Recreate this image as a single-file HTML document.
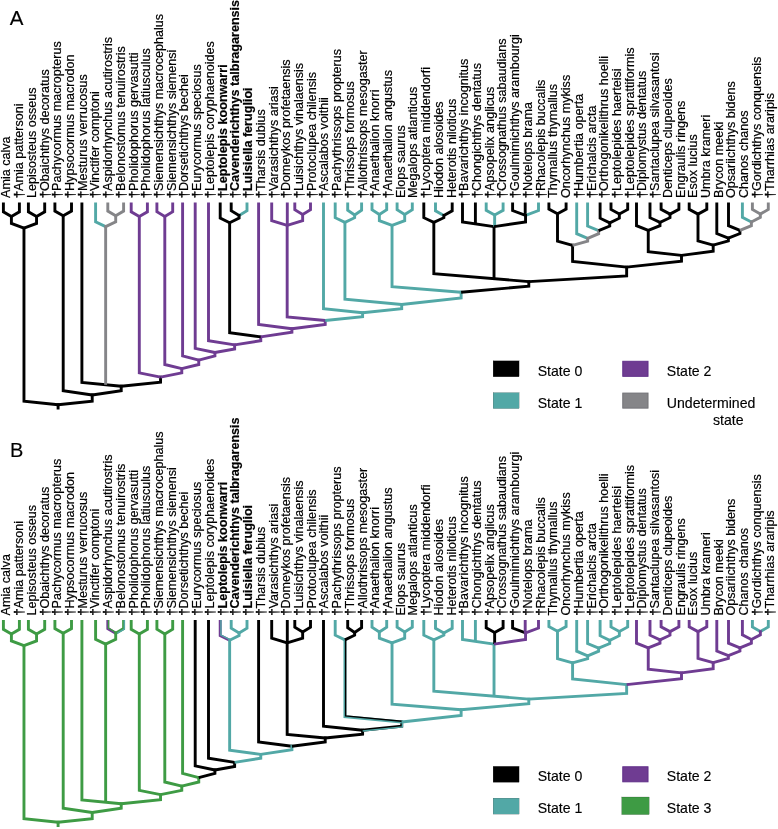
<!DOCTYPE html>
<html><head><meta charset="utf-8"><style>
html,body{margin:0;padding:0;background:#fff;}
body{width:778px;height:829px;overflow:hidden;}
svg{display:block;will-change:transform;}
text{font-family:"Liberation Sans",sans-serif;}
</style></head><body>
<svg width="778" height="829" viewBox="0 0 778 829">
<g font-size="20" fill="#000" stroke="#000" stroke-width="0.15"><text x="9.7" y="25.3" font-size="20.5">A</text><text x="9.9" y="457.1">B</text></g>
<g font-size="12.6" fill="#000" stroke="#000" stroke-width="0.2">
<text transform="translate(10.40,198.00) rotate(-90)">Amia calva</text>
<text transform="translate(23.12,198.00) rotate(-90)"><tspan font-weight="normal" stroke-width="0.45">†</tspan>Amia pattersoni</text>
<text transform="translate(35.84,198.00) rotate(-90)">Lepisosteus osseus</text>
<text transform="translate(48.56,198.00) rotate(-90)"><tspan font-weight="normal" stroke-width="0.45">†</tspan>Obaichthys decoratus</text>
<text transform="translate(61.28,198.00) rotate(-90)"><tspan font-weight="normal" stroke-width="0.45">†</tspan>Pachycormus macropterus</text>
<text transform="translate(74.00,198.00) rotate(-90)"><tspan font-weight="normal" stroke-width="0.45">†</tspan>Hypsocormus macrodon</text>
<text transform="translate(86.72,198.00) rotate(-90)"><tspan font-weight="normal" stroke-width="0.45">†</tspan>Mesturus verrucosus</text>
<text transform="translate(99.44,198.00) rotate(-90)"><tspan font-weight="normal" stroke-width="0.45">†</tspan>Vinctifer comptoni</text>
<text transform="translate(112.16,198.00) rotate(-90)"><tspan font-weight="normal" stroke-width="0.45">†</tspan>Aspidorhynchus acutirostris</text>
<text transform="translate(124.88,198.00) rotate(-90)"><tspan font-weight="normal" stroke-width="0.45">†</tspan>Belonostomus tenuirostris</text>
<text transform="translate(137.60,198.00) rotate(-90)"><tspan font-weight="normal" stroke-width="0.45">†</tspan>Pholidophorus gervasutti</text>
<text transform="translate(150.32,198.00) rotate(-90)"><tspan font-weight="normal" stroke-width="0.45">†</tspan>Pholidophorus latiusculus</text>
<text transform="translate(163.04,198.00) rotate(-90)"><tspan font-weight="normal" stroke-width="0.45">†</tspan>Siemensichthys macrocephalus</text>
<text transform="translate(175.76,198.00) rotate(-90)"><tspan font-weight="normal" stroke-width="0.45">†</tspan>Siemensichthys siemensi</text>
<text transform="translate(188.48,198.00) rotate(-90)"><tspan font-weight="normal" stroke-width="0.45">†</tspan>Dorsetichthys bechei</text>
<text transform="translate(201.20,198.00) rotate(-90)"><tspan font-weight="normal" stroke-width="0.45">†</tspan>Eurycormus speciosus</text>
<text transform="translate(213.92,198.00) rotate(-90)"><tspan font-weight="normal" stroke-width="0.45">†</tspan>Leptolepis coryphaenoides</text>
<text transform="translate(226.64,198.00) rotate(-90)" font-weight="bold"><tspan font-weight="normal" stroke-width="0.45">†</tspan>Leptolepis koonwarri</text>
<text transform="translate(239.36,198.00) rotate(-90)" font-weight="bold"><tspan font-weight="normal" stroke-width="0.45">†</tspan>Cavenderichthys talbragarensis</text>
<text transform="translate(252.08,198.00) rotate(-90)" font-weight="bold"><tspan font-weight="normal" stroke-width="0.45">†</tspan>Luisiella feruglioi</text>
<text transform="translate(264.80,198.00) rotate(-90)"><tspan font-weight="normal" stroke-width="0.45">†</tspan>Tharsis dubius</text>
<text transform="translate(277.52,198.00) rotate(-90)"><tspan font-weight="normal" stroke-width="0.45">†</tspan>Varasichthys ariasi</text>
<text transform="translate(290.24,198.00) rotate(-90)"><tspan font-weight="normal" stroke-width="0.45">†</tspan>Domeykos profetaensis</text>
<text transform="translate(302.96,198.00) rotate(-90)"><tspan font-weight="normal" stroke-width="0.45">†</tspan>Luisichthys vinalaensis</text>
<text transform="translate(315.68,198.00) rotate(-90)"><tspan font-weight="normal" stroke-width="0.45">†</tspan>Protoclupea chilensis</text>
<text transform="translate(328.40,198.00) rotate(-90)"><tspan font-weight="normal" stroke-width="0.45">†</tspan>Ascalabos voithii</text>
<text transform="translate(341.12,198.00) rotate(-90)"><tspan font-weight="normal" stroke-width="0.45">†</tspan>Pachythrissops propterus</text>
<text transform="translate(353.84,198.00) rotate(-90)"><tspan font-weight="normal" stroke-width="0.45">†</tspan>Thrissops formosus</text>
<text transform="translate(366.56,198.00) rotate(-90)"><tspan font-weight="normal" stroke-width="0.45">†</tspan>Allothrissops mesogaster</text>
<text transform="translate(379.28,198.00) rotate(-90)"><tspan font-weight="normal" stroke-width="0.45">†</tspan>Anaethalion knorri</text>
<text transform="translate(392.00,198.00) rotate(-90)"><tspan font-weight="normal" stroke-width="0.45">†</tspan>Anaethalion angustus</text>
<text transform="translate(404.72,198.00) rotate(-90)">Elops saurus</text>
<text transform="translate(417.44,198.00) rotate(-90)">Megalops atlanticus</text>
<text transform="translate(430.16,198.00) rotate(-90)"><tspan font-weight="normal" stroke-width="0.45">†</tspan>Lycoptera middendorfi</text>
<text transform="translate(442.88,198.00) rotate(-90)">Hiodon alosoides</text>
<text transform="translate(455.60,198.00) rotate(-90)">Heterotis niloticus</text>
<text transform="translate(468.32,198.00) rotate(-90)"><tspan font-weight="normal" stroke-width="0.45">†</tspan>Bavarichthys incognitus</text>
<text transform="translate(481.04,198.00) rotate(-90)"><tspan font-weight="normal" stroke-width="0.45">†</tspan>Chongichthys dentatus</text>
<text transform="translate(493.76,198.00) rotate(-90)"><tspan font-weight="normal" stroke-width="0.45">†</tspan>Apsopelix anglicus</text>
<text transform="translate(506.48,198.00) rotate(-90)"><tspan font-weight="normal" stroke-width="0.45">†</tspan>Crossognathus sabaudians</text>
<text transform="translate(519.20,198.00) rotate(-90)"><tspan font-weight="normal" stroke-width="0.45">†</tspan>Goulmimichthys arambourgi</text>
<text transform="translate(531.92,198.00) rotate(-90)"><tspan font-weight="normal" stroke-width="0.45">†</tspan>Notelops brama</text>
<text transform="translate(544.64,198.00) rotate(-90)"><tspan font-weight="normal" stroke-width="0.45">†</tspan>Rhacolepis buccalis</text>
<text transform="translate(557.36,198.00) rotate(-90)">Thymallus thymallus</text>
<text transform="translate(570.08,198.00) rotate(-90)">Oncorhynchus mykiss</text>
<text transform="translate(582.80,198.00) rotate(-90)"><tspan font-weight="normal" stroke-width="0.45">†</tspan>Humbertia operta</text>
<text transform="translate(595.52,198.00) rotate(-90)"><tspan font-weight="normal" stroke-width="0.45">†</tspan>Erichalcis arcta</text>
<text transform="translate(608.24,198.00) rotate(-90)"><tspan font-weight="normal" stroke-width="0.45">†</tspan>Orthogonikelithrus hoelli</text>
<text transform="translate(620.96,198.00) rotate(-90)"><tspan font-weight="normal" stroke-width="0.45">†</tspan>Leptolepides haerteisi</text>
<text transform="translate(633.68,198.00) rotate(-90)"><tspan font-weight="normal" stroke-width="0.45">†</tspan>Leptolepides sprattiformis</text>
<text transform="translate(646.40,198.00) rotate(-90)"><tspan font-weight="normal" stroke-width="0.45">†</tspan>Diplomystus dentatus</text>
<text transform="translate(659.12,198.00) rotate(-90)"><tspan font-weight="normal" stroke-width="0.45">†</tspan>Santaclupea silvasantosi</text>
<text transform="translate(671.84,198.00) rotate(-90)">Denticeps clupeoides</text>
<text transform="translate(684.56,198.00) rotate(-90)">Engraulis ringens</text>
<text transform="translate(697.28,198.00) rotate(-90)">Esox lucius</text>
<text transform="translate(710.00,198.00) rotate(-90)">Umbra krameri</text>
<text transform="translate(722.72,198.00) rotate(-90)">Brycon meeki</text>
<text transform="translate(735.44,198.00) rotate(-90)">Opsariichthys bidens</text>
<text transform="translate(748.16,198.00) rotate(-90)">Chanos chanos</text>
<text transform="translate(760.88,198.00) rotate(-90)"><tspan font-weight="normal" stroke-width="0.45">†</tspan>Gordichthys conquensis</text>
<text transform="translate(773.60,198.00) rotate(-90)"><tspan font-weight="normal" stroke-width="0.45">†</tspan>Tharrhias araripis</text>
<text transform="translate(10.40,615.50) rotate(-90)">Amia calva</text>
<text transform="translate(23.12,615.50) rotate(-90)"><tspan font-weight="normal" stroke-width="0.45">†</tspan>Amia pattersoni</text>
<text transform="translate(35.84,615.50) rotate(-90)">Lepisosteus osseus</text>
<text transform="translate(48.56,615.50) rotate(-90)"><tspan font-weight="normal" stroke-width="0.45">†</tspan>Obaichthys decoratus</text>
<text transform="translate(61.28,615.50) rotate(-90)"><tspan font-weight="normal" stroke-width="0.45">†</tspan>Pachycormus macropterus</text>
<text transform="translate(74.00,615.50) rotate(-90)"><tspan font-weight="normal" stroke-width="0.45">†</tspan>Hypsocormus macrodon</text>
<text transform="translate(86.72,615.50) rotate(-90)"><tspan font-weight="normal" stroke-width="0.45">†</tspan>Mesturus verrucosus</text>
<text transform="translate(99.44,615.50) rotate(-90)"><tspan font-weight="normal" stroke-width="0.45">†</tspan>Vinctifer comptoni</text>
<text transform="translate(112.16,615.50) rotate(-90)"><tspan font-weight="normal" stroke-width="0.45">†</tspan>Aspidorhynchus acutirostris</text>
<text transform="translate(124.88,615.50) rotate(-90)"><tspan font-weight="normal" stroke-width="0.45">†</tspan>Belonostomus tenuirostris</text>
<text transform="translate(137.60,615.50) rotate(-90)"><tspan font-weight="normal" stroke-width="0.45">†</tspan>Pholidophorus gervasutti</text>
<text transform="translate(150.32,615.50) rotate(-90)"><tspan font-weight="normal" stroke-width="0.45">†</tspan>Pholidophorus latiusculus</text>
<text transform="translate(163.04,615.50) rotate(-90)"><tspan font-weight="normal" stroke-width="0.45">†</tspan>Siemensichthys macrocephalus</text>
<text transform="translate(175.76,615.50) rotate(-90)"><tspan font-weight="normal" stroke-width="0.45">†</tspan>Siemensichthys siemensi</text>
<text transform="translate(188.48,615.50) rotate(-90)"><tspan font-weight="normal" stroke-width="0.45">†</tspan>Dorsetichthys bechei</text>
<text transform="translate(201.20,615.50) rotate(-90)"><tspan font-weight="normal" stroke-width="0.45">†</tspan>Eurycormus speciosus</text>
<text transform="translate(213.92,615.50) rotate(-90)"><tspan font-weight="normal" stroke-width="0.45">†</tspan>Leptolepis coryphaenoides</text>
<text transform="translate(226.64,615.50) rotate(-90)" font-weight="bold"><tspan font-weight="normal" stroke-width="0.45">†</tspan>Leptolepis koonwarri</text>
<text transform="translate(239.36,615.50) rotate(-90)" font-weight="bold"><tspan font-weight="normal" stroke-width="0.45">†</tspan>Cavenderichthys talbragarensis</text>
<text transform="translate(252.08,615.50) rotate(-90)" font-weight="bold"><tspan font-weight="normal" stroke-width="0.45">†</tspan>Luisiella feruglioi</text>
<text transform="translate(264.80,615.50) rotate(-90)"><tspan font-weight="normal" stroke-width="0.45">†</tspan>Tharsis dubius</text>
<text transform="translate(277.52,615.50) rotate(-90)"><tspan font-weight="normal" stroke-width="0.45">†</tspan>Varasichthys ariasi</text>
<text transform="translate(290.24,615.50) rotate(-90)"><tspan font-weight="normal" stroke-width="0.45">†</tspan>Domeykos profetaensis</text>
<text transform="translate(302.96,615.50) rotate(-90)"><tspan font-weight="normal" stroke-width="0.45">†</tspan>Luisichthys vinalaensis</text>
<text transform="translate(315.68,615.50) rotate(-90)"><tspan font-weight="normal" stroke-width="0.45">†</tspan>Protoclupea chilensis</text>
<text transform="translate(328.40,615.50) rotate(-90)"><tspan font-weight="normal" stroke-width="0.45">†</tspan>Ascalabos voithii</text>
<text transform="translate(341.12,615.50) rotate(-90)"><tspan font-weight="normal" stroke-width="0.45">†</tspan>Pachythrissops propterus</text>
<text transform="translate(353.84,615.50) rotate(-90)"><tspan font-weight="normal" stroke-width="0.45">†</tspan>Thrissops formosus</text>
<text transform="translate(366.56,615.50) rotate(-90)"><tspan font-weight="normal" stroke-width="0.45">†</tspan>Allothrissops mesogaster</text>
<text transform="translate(379.28,615.50) rotate(-90)"><tspan font-weight="normal" stroke-width="0.45">†</tspan>Anaethalion knorri</text>
<text transform="translate(392.00,615.50) rotate(-90)"><tspan font-weight="normal" stroke-width="0.45">†</tspan>Anaethalion angustus</text>
<text transform="translate(404.72,615.50) rotate(-90)">Elops saurus</text>
<text transform="translate(417.44,615.50) rotate(-90)">Megalops atlanticus</text>
<text transform="translate(430.16,615.50) rotate(-90)"><tspan font-weight="normal" stroke-width="0.45">†</tspan>Lycoptera middendorfi</text>
<text transform="translate(442.88,615.50) rotate(-90)">Hiodon alosoides</text>
<text transform="translate(455.60,615.50) rotate(-90)">Heterotis niloticus</text>
<text transform="translate(468.32,615.50) rotate(-90)"><tspan font-weight="normal" stroke-width="0.45">†</tspan>Bavarichthys incognitus</text>
<text transform="translate(481.04,615.50) rotate(-90)"><tspan font-weight="normal" stroke-width="0.45">†</tspan>Chongichthys dentatus</text>
<text transform="translate(493.76,615.50) rotate(-90)"><tspan font-weight="normal" stroke-width="0.45">†</tspan>Apsopelix anglicus</text>
<text transform="translate(506.48,615.50) rotate(-90)"><tspan font-weight="normal" stroke-width="0.45">†</tspan>Crossognathus sabaudians</text>
<text transform="translate(519.20,615.50) rotate(-90)"><tspan font-weight="normal" stroke-width="0.45">†</tspan>Goulmimichthys arambourgi</text>
<text transform="translate(531.92,615.50) rotate(-90)"><tspan font-weight="normal" stroke-width="0.45">†</tspan>Notelops brama</text>
<text transform="translate(544.64,615.50) rotate(-90)"><tspan font-weight="normal" stroke-width="0.45">†</tspan>Rhacolepis buccalis</text>
<text transform="translate(557.36,615.50) rotate(-90)">Thymallus thymallus</text>
<text transform="translate(570.08,615.50) rotate(-90)">Oncorhynchus mykiss</text>
<text transform="translate(582.80,615.50) rotate(-90)"><tspan font-weight="normal" stroke-width="0.45">†</tspan>Humbertia operta</text>
<text transform="translate(595.52,615.50) rotate(-90)"><tspan font-weight="normal" stroke-width="0.45">†</tspan>Erichalcis arcta</text>
<text transform="translate(608.24,615.50) rotate(-90)"><tspan font-weight="normal" stroke-width="0.45">†</tspan>Orthogonikelithrus hoelli</text>
<text transform="translate(620.96,615.50) rotate(-90)"><tspan font-weight="normal" stroke-width="0.45">†</tspan>Leptolepides haerteisi</text>
<text transform="translate(633.68,615.50) rotate(-90)"><tspan font-weight="normal" stroke-width="0.45">†</tspan>Leptolepides sprattiformis</text>
<text transform="translate(646.40,615.50) rotate(-90)"><tspan font-weight="normal" stroke-width="0.45">†</tspan>Diplomystus dentatus</text>
<text transform="translate(659.12,615.50) rotate(-90)"><tspan font-weight="normal" stroke-width="0.45">†</tspan>Santaclupea silvasantosi</text>
<text transform="translate(671.84,615.50) rotate(-90)">Denticeps clupeoides</text>
<text transform="translate(684.56,615.50) rotate(-90)">Engraulis ringens</text>
<text transform="translate(697.28,615.50) rotate(-90)">Esox lucius</text>
<text transform="translate(710.00,615.50) rotate(-90)">Umbra krameri</text>
<text transform="translate(722.72,615.50) rotate(-90)">Brycon meeki</text>
<text transform="translate(735.44,615.50) rotate(-90)">Opsariichthys bidens</text>
<text transform="translate(748.16,615.50) rotate(-90)">Chanos chanos</text>
<text transform="translate(760.88,615.50) rotate(-90)"><tspan font-weight="normal" stroke-width="0.45">†</tspan>Gordichthys conquensis</text>
<text transform="translate(773.60,615.50) rotate(-90)"><tspan font-weight="normal" stroke-width="0.45">†</tspan>Tharrhias araripis</text>
</g>
<g fill="none" stroke-width="2.90" stroke-linejoin="miter" stroke-linecap="butt">
<polyline points="3.40,202.50 3.40,211.80 11.40,216.50" stroke="#000000"/>
<polyline points="19.40,202.50 19.40,211.80 11.40,216.50" stroke="#000000"/>
<polyline points="28.40,202.50 28.40,211.80 36.55,216.50" stroke="#000000"/>
<polyline points="44.70,202.50 44.70,211.80 36.55,216.50" stroke="#000000"/>
<polyline points="54.90,202.50 54.90,211.10 63.20,215.80" stroke="#000000"/>
<polyline points="71.50,202.50 71.50,211.10 63.20,215.80" stroke="#000000"/>
<polyline points="81.90,202.50 81.90,382.50 121.22,386.30" stroke="#000000"/>
<polyline points="95.60,202.50 95.60,221.90 105.65,226.60" stroke="#52a8a6"/>
<polyline points="107.80,202.50 107.80,211.10 115.70,215.80" stroke="#858588"/>
<polyline points="123.60,202.50 123.60,211.10 115.70,215.80" stroke="#858588"/>
<polyline points="131.20,202.50 131.20,211.80 139.30,216.50" stroke="#6f3c92"/>
<polyline points="147.40,202.50 147.40,211.80 139.30,216.50" stroke="#6f3c92"/>
<polyline points="156.90,202.50 156.90,211.80 164.80,216.50" stroke="#6f3c92"/>
<polyline points="172.70,202.50 172.70,211.80 164.80,216.50" stroke="#6f3c92"/>
<polyline points="182.60,202.50 182.60,356.00 198.76,360.20" stroke="#6f3c92"/>
<polyline points="195.20,202.50 195.20,348.30 214.92,352.50" stroke="#6f3c92"/>
<polyline points="208.50,202.50 208.50,340.70 234.64,344.90" stroke="#6f3c92"/>
<polyline points="220.20,202.50 220.20,218.00 229.65,222.70" stroke="#000000"/>
<polyline points="231.20,202.50 231.20,210.80 239.10,215.50" stroke="#000000"/>
<polyline points="247.00,202.50 247.00,210.80 239.10,215.50" stroke="#52a8a6"/>
<polyline points="258.60,202.50 258.60,324.50 291.91,328.70" stroke="#6f3c92"/>
<polyline points="271.70,202.50 271.70,220.70 287.17,225.40" stroke="#6f3c92"/>
<polyline points="287.30,202.50 287.30,225.40" stroke="#6f3c92"/>
<polyline points="294.80,202.50 294.80,209.80 302.65,214.50" stroke="#6f3c92"/>
<polyline points="310.50,202.50 310.50,209.80 302.65,214.50" stroke="#6f3c92"/>
<polyline points="323.50,202.50 323.50,308.70 362.60,312.80" stroke="#52a8a6"/>
<polyline points="335.20,202.50 335.20,217.70 344.92,222.40" stroke="#52a8a6"/>
<polyline points="347.70,202.50 347.70,210.30 354.65,215.00" stroke="#52a8a6"/>
<polyline points="361.60,202.50 361.60,210.30 354.65,215.00" stroke="#52a8a6"/>
<polyline points="372.00,202.50 372.00,209.80 379.35,214.50" stroke="#52a8a6"/>
<polyline points="386.70,202.50 386.70,209.80 379.35,214.50" stroke="#52a8a6"/>
<polyline points="397.10,202.50 397.10,209.80 404.70,214.50" stroke="#52a8a6"/>
<polyline points="412.30,202.50 412.30,209.80 404.70,214.50" stroke="#52a8a6"/>
<polyline points="423.80,202.50 423.80,217.70 433.83,222.40" stroke="#000000"/>
<polyline points="435.50,202.50 435.50,210.80 443.85,215.50" stroke="#52a8a6"/>
<polyline points="452.20,202.50 452.20,210.80 443.85,215.50" stroke="#000000"/>
<polyline points="462.50,202.50 462.50,221.90 494.02,226.60" stroke="#000000"/>
<polyline points="475.40,202.50 475.40,224.12" stroke="#000000"/>
<polyline points="486.20,202.50 486.20,210.30 494.65,215.00" stroke="#52a8a6"/>
<polyline points="503.10,202.50 503.10,210.30 494.65,215.00" stroke="#52a8a6"/>
<polyline points="512.60,202.50 512.60,210.60 525.55,215.30" stroke="#000000"/>
<polyline points="525.20,202.50 525.20,215.30" stroke="#000000"/>
<polyline points="538.50,202.50 538.50,210.60 525.55,215.30" stroke="#52a8a6"/>
<polyline points="548.90,202.50 548.90,209.10 557.50,213.80" stroke="#000000"/>
<polyline points="566.10,202.50 566.10,209.10 557.50,213.80" stroke="#000000"/>
<polyline points="576.70,202.50 576.70,233.70 587.68,238.40" stroke="#52a8a6"/>
<polyline points="587.60,202.50 587.60,226.00 598.66,230.70" stroke="#52a8a6"/>
<polyline points="600.10,202.50 600.10,218.20 609.73,222.90" stroke="#000000"/>
<polyline points="611.00,202.50 611.00,209.40 619.35,214.10" stroke="#000000"/>
<polyline points="627.70,202.50 627.70,209.40 619.35,214.10" stroke="#000000"/>
<polyline points="636.50,202.50 636.50,225.70 648.25,230.40" stroke="#000000"/>
<polyline points="650.00,202.50 650.00,217.70 660.00,222.40" stroke="#000000"/>
<polyline points="661.10,202.50 661.10,209.40 670.00,214.10" stroke="#000000"/>
<polyline points="678.90,202.50 678.90,209.40 670.00,214.10" stroke="#000000"/>
<polyline points="689.20,202.50 689.20,209.40 698.00,214.10" stroke="#000000"/>
<polyline points="706.80,202.50 706.80,209.40 698.00,214.10" stroke="#000000"/>
<polyline points="716.80,202.50 716.80,233.50 728.37,238.20" stroke="#000000"/>
<polyline points="728.50,202.50 728.50,225.70 739.94,230.40" stroke="#000000"/>
<polyline points="742.40,202.50 742.40,217.30 751.38,222.00" stroke="#52a8a6"/>
<polyline points="752.40,202.50 752.40,209.40 760.35,214.10" stroke="#858588"/>
<polyline points="768.30,202.50 768.30,209.40 760.35,214.10" stroke="#858588"/>
<polyline points="23.97,226.65 23.97,401.30 58.09,404.70" stroke="#000000"/>
<polyline points="92.21,393.55 92.21,401.30 58.09,404.70" stroke="#000000"/>
<polyline points="11.40,215.05 11.40,223.40 23.97,228.10" stroke="#000000"/>
<polyline points="36.55,215.05 36.55,223.40 23.97,228.10" stroke="#000000"/>
<polyline points="63.20,214.35 63.20,390.80 92.21,395.00" stroke="#000000"/>
<polyline points="121.22,384.85 121.22,390.80 92.21,395.00" stroke="#000000"/>
<polyline points="105.65,225.15 105.65,384.80" stroke="#858588"/>
<polyline points="160.54,375.65 160.54,382.10 121.22,386.30" stroke="#000000"/>
<polyline points="115.70,214.35 115.70,221.90 105.65,226.60" stroke="#858588"/>
<polyline points="139.30,215.05 139.30,372.90 160.54,377.10" stroke="#6f3c92"/>
<polyline points="181.78,367.25 181.78,372.90 160.54,377.10" stroke="#6f3c92"/>
<polyline points="164.80,215.05 164.80,364.50 181.78,368.70" stroke="#6f3c92"/>
<polyline points="198.76,358.75 198.76,364.50 181.78,368.70" stroke="#6f3c92"/>
<polyline points="214.92,351.05 214.92,356.00 198.76,360.20" stroke="#6f3c92"/>
<polyline points="234.64,343.45 234.64,349.00 214.92,352.50" stroke="#6f3c92"/>
<polyline points="260.78,335.45 260.78,340.70 234.64,344.90" stroke="#6f3c92"/>
<polyline points="229.65,221.25 229.65,332.80 260.78,336.90" stroke="#000000"/>
<polyline points="291.91,327.25 291.91,332.20 260.78,336.90" stroke="#6f3c92"/>
<polyline points="239.10,214.05 239.10,218.00 229.65,222.70" stroke="#000000"/>
<polyline points="325.22,319.05 325.22,324.50 291.91,328.70" stroke="#6f3c92"/>
<polyline points="287.17,223.95 287.17,317.00 325.22,320.50" stroke="#6f3c92"/>
<polyline points="362.60,311.35 362.60,316.60 325.22,320.50" stroke="#52a8a6"/>
<polyline points="302.65,213.05 302.65,220.70 287.17,225.40" stroke="#6f3c92"/>
<polyline points="401.70,303.05 401.70,308.80 362.60,312.80" stroke="#52a8a6"/>
<polyline points="344.92,220.95 344.92,299.10 401.70,304.50" stroke="#52a8a6"/>
<polyline points="461.13,290.75 461.13,298.00 401.70,304.50" stroke="#52a8a6"/>
<polyline points="354.65,213.55 354.65,217.70 344.92,222.40" stroke="#52a8a6"/>
<polyline points="392.03,223.95 392.03,286.70 461.13,292.20" stroke="#52a8a6"/>
<polyline points="528.80,280.15 528.80,286.20 461.13,292.20" stroke="#000000"/>
<polyline points="379.35,213.05 379.35,220.70 392.03,225.40" stroke="#52a8a6"/>
<polyline points="404.70,213.05 404.70,220.70 392.03,225.40" stroke="#52a8a6"/>
<polyline points="433.83,220.95 433.83,273.60 528.80,281.60" stroke="#000000"/>
<polyline points="494.02,225.15 494.02,278.67" stroke="#000000"/>
<polyline points="626.65,265.65 626.65,276.00 528.80,281.60" stroke="#000000"/>
<polyline points="443.85,214.05 443.85,217.70 433.83,222.40" stroke="#000000"/>
<polyline points="494.65,213.55 494.65,226.60" stroke="#52a8a6"/>
<polyline points="525.55,213.85 525.55,221.90 494.02,226.60" stroke="#000000"/>
<polyline points="572.59,243.85 572.59,261.50 626.65,267.10" stroke="#000000"/>
<polyline points="681.50,253.95 681.50,261.20 626.65,267.10" stroke="#000000"/>
<polyline points="557.50,212.35 557.50,241.10 572.59,245.30" stroke="#000000"/>
<polyline points="587.68,236.95 587.68,241.10 572.59,245.30" stroke="#858588"/>
<polyline points="598.66,229.25 598.66,233.70 587.68,238.40" stroke="#858588"/>
<polyline points="609.73,221.45 609.73,226.00 598.66,230.70" stroke="#000000"/>
<polyline points="619.35,212.65 619.35,218.20 609.73,222.90" stroke="#000000"/>
<polyline points="648.25,228.95 648.25,251.70 681.50,255.40" stroke="#000000"/>
<polyline points="713.18,243.75 713.18,251.20 681.50,255.40" stroke="#000000"/>
<polyline points="660.00,220.95 660.00,225.70 648.25,230.40" stroke="#000000"/>
<polyline points="670.00,212.65 670.00,217.70 660.00,222.40" stroke="#000000"/>
<polyline points="698.00,212.65 698.00,241.00 713.18,245.20" stroke="#000000"/>
<polyline points="728.37,236.75 728.37,241.00 713.18,245.20" stroke="#000000"/>
<polyline points="739.94,228.95 739.94,233.50 728.37,238.20" stroke="#000000"/>
<polyline points="751.38,220.55 751.38,225.70 739.94,230.40" stroke="#858588"/>
<polyline points="760.35,212.65 760.35,217.30 751.38,222.00" stroke="#858588"/>
<polyline points="58.09,403.25 58.09,409.50" stroke="#000000"/>
<polyline points="3.40,620.00 3.40,629.30 11.40,634.00" stroke="#3e9b44"/>
<polyline points="19.40,620.00 19.40,629.30 11.40,634.00" stroke="#3e9b44"/>
<polyline points="28.40,620.00 28.40,629.30 36.55,634.00" stroke="#3e9b44"/>
<polyline points="44.70,620.00 44.70,629.30 36.55,634.00" stroke="#3e9b44"/>
<polyline points="54.90,620.00 54.90,628.60 63.20,633.30" stroke="#3e9b44"/>
<polyline points="71.50,620.00 71.50,628.60 63.20,633.30" stroke="#3e9b44"/>
<polyline points="81.90,620.00 81.90,800.00 121.22,803.80" stroke="#3e9b44"/>
<polyline points="95.60,620.00 95.60,639.40 105.65,644.10" stroke="#3e9b44"/>
<polyline points="107.80,620.00 107.80,628.60 115.70,633.30" stroke="#6f3c92"/>
<polyline points="108.52,620.00 108.52,628.19 116.07,632.68" stroke="#3e9b44" stroke-width="1.45"/>
<polyline points="123.60,620.00 123.60,628.60 115.70,633.30" stroke="#3e9b44"/>
<polyline points="124.32,620.00 124.32,629.01 116.07,633.92" stroke="#52a8a6" stroke-width="1.45"/>
<polyline points="131.20,620.00 131.20,629.30 139.30,634.00" stroke="#3e9b44"/>
<polyline points="147.40,620.00 147.40,629.30 139.30,634.00" stroke="#3e9b44"/>
<polyline points="156.90,620.00 156.90,629.30 164.80,634.00" stroke="#3e9b44"/>
<polyline points="172.70,620.00 172.70,629.30 164.80,634.00" stroke="#3e9b44"/>
<polyline points="182.60,620.00 182.60,773.50 198.76,777.70" stroke="#3e9b44"/>
<polyline points="195.20,620.00 195.20,765.80 214.92,770.00" stroke="#000000"/>
<polyline points="208.50,620.00 208.50,758.20 234.64,762.40" stroke="#000000"/>
<polyline points="220.20,620.00 220.20,635.50 229.65,640.20" stroke="#6f3c92"/>
<polyline points="220.92,620.00 220.92,635.05 229.97,639.55" stroke="#52a8a6" stroke-width="1.45"/>
<polyline points="231.20,620.00 231.20,628.30 239.10,633.00" stroke="#52a8a6"/>
<polyline points="247.00,620.00 247.00,628.30 239.10,633.00" stroke="#52a8a6"/>
<polyline points="258.60,620.00 258.60,742.00 291.91,746.20" stroke="#000000"/>
<polyline points="271.70,620.00 271.70,638.20 287.17,642.90" stroke="#000000"/>
<polyline points="287.30,620.00 287.30,642.90" stroke="#000000"/>
<polyline points="294.80,620.00 294.80,627.30 302.65,632.00" stroke="#000000"/>
<polyline points="310.50,620.00 310.50,627.30 302.65,632.00" stroke="#000000"/>
<polyline points="323.50,620.00 323.50,726.20 362.60,730.30" stroke="#000000"/>
<polyline points="335.20,620.00 335.20,635.20 344.92,639.90" stroke="#52a8a6"/>
<polyline points="347.70,620.00 347.70,627.80 354.65,632.50" stroke="#000000"/>
<polyline points="361.60,620.00 361.60,627.80 354.65,632.50" stroke="#000000"/>
<polyline points="372.00,620.00 372.00,627.30 379.35,632.00" stroke="#52a8a6"/>
<polyline points="386.70,620.00 386.70,627.30 379.35,632.00" stroke="#52a8a6"/>
<polyline points="397.10,620.00 397.10,627.30 404.70,632.00" stroke="#52a8a6"/>
<polyline points="412.30,620.00 412.30,627.30 404.70,632.00" stroke="#52a8a6"/>
<polyline points="423.80,620.00 423.80,635.20 433.83,639.90" stroke="#52a8a6"/>
<polyline points="435.50,620.00 435.50,628.30 443.85,633.00" stroke="#52a8a6"/>
<polyline points="452.20,620.00 452.20,628.30 443.85,633.00" stroke="#52a8a6"/>
<polyline points="462.50,620.00 462.50,639.40 494.02,644.10" stroke="#52a8a6"/>
<polyline points="475.40,620.00 475.40,641.62" stroke="#52a8a6"/>
<polyline points="486.20,620.00 486.20,627.80 494.65,632.50" stroke="#000000"/>
<polyline points="503.10,620.00 503.10,627.80 494.65,632.50" stroke="#000000"/>
<polyline points="512.60,620.00 512.60,628.10 525.55,632.80" stroke="#000000"/>
<polyline points="525.20,620.00 525.20,632.80" stroke="#6f3c92"/>
<polyline points="538.50,620.00 538.50,628.10 525.55,632.80" stroke="#6f3c92"/>
<polyline points="548.90,620.00 548.90,626.60 557.50,631.30" stroke="#52a8a6"/>
<polyline points="566.10,620.00 566.10,626.60 557.50,631.30" stroke="#52a8a6"/>
<polyline points="576.70,620.00 576.70,651.20 587.68,655.90" stroke="#52a8a6"/>
<polyline points="587.60,620.00 587.60,643.50 598.66,648.20" stroke="#52a8a6"/>
<polyline points="600.10,620.00 600.10,635.70 609.73,640.40" stroke="#52a8a6"/>
<polyline points="611.00,620.00 611.00,626.90 619.35,631.60" stroke="#52a8a6"/>
<polyline points="627.70,620.00 627.70,626.90 619.35,631.60" stroke="#52a8a6"/>
<polyline points="636.50,620.00 636.50,643.20 648.25,647.90" stroke="#6f3c92"/>
<polyline points="650.00,620.00 650.00,635.20 660.00,639.90" stroke="#6f3c92"/>
<polyline points="661.10,620.00 661.10,626.90 670.00,631.60" stroke="#6f3c92"/>
<polyline points="678.90,620.00 678.90,626.90 670.00,631.60" stroke="#6f3c92"/>
<polyline points="689.20,620.00 689.20,626.90 698.00,631.60" stroke="#6f3c92"/>
<polyline points="706.80,620.00 706.80,626.90 698.00,631.60" stroke="#6f3c92"/>
<polyline points="716.80,620.00 716.80,651.00 728.37,655.70" stroke="#6f3c92"/>
<polyline points="728.50,620.00 728.50,643.20 739.94,647.90" stroke="#6f3c92"/>
<polyline points="742.40,620.00 742.40,634.80 751.38,639.50" stroke="#6f3c92"/>
<polyline points="752.40,620.00 752.40,626.90 760.35,631.60" stroke="#52a8a6"/>
<polyline points="768.30,620.00 768.30,626.90 760.35,631.60" stroke="#52a8a6"/>
<polyline points="23.97,644.15 23.97,818.80 58.09,822.20" stroke="#3e9b44"/>
<polyline points="92.21,811.05 92.21,818.80 58.09,822.20" stroke="#3e9b44"/>
<polyline points="11.40,632.55 11.40,640.90 23.97,645.60" stroke="#3e9b44"/>
<polyline points="36.55,632.55 36.55,640.90 23.97,645.60" stroke="#3e9b44"/>
<polyline points="63.20,631.85 63.20,808.30 92.21,812.50" stroke="#3e9b44"/>
<polyline points="121.22,802.35 121.22,808.30 92.21,812.50" stroke="#3e9b44"/>
<polyline points="105.65,642.65 105.65,802.30" stroke="#3e9b44"/>
<polyline points="160.54,793.15 160.54,799.60 121.22,803.80" stroke="#3e9b44"/>
<polyline points="115.70,631.85 115.70,639.40 105.65,644.10" stroke="#3e9b44"/>
<polyline points="139.30,632.55 139.30,790.40 160.54,794.60" stroke="#3e9b44"/>
<polyline points="181.78,784.75 181.78,790.40 160.54,794.60" stroke="#3e9b44"/>
<polyline points="164.80,632.55 164.80,782.00 181.78,786.20" stroke="#3e9b44"/>
<polyline points="198.76,776.25 198.76,782.00 181.78,786.20" stroke="#3e9b44"/>
<polyline points="214.92,768.55 214.92,773.50 198.76,777.70" stroke="#000000"/>
<polyline points="234.64,760.95 234.64,766.50 214.92,770.00" stroke="#000000"/>
<polyline points="260.78,752.95 260.78,758.20 234.64,762.40" stroke="#52a8a6"/>
<polyline points="229.65,638.75 229.65,750.30 260.78,754.40" stroke="#52a8a6"/>
<polyline points="291.91,744.75 291.91,749.70 260.78,754.40" stroke="#52a8a6"/>
<polyline points="239.10,631.55 239.10,635.50 229.65,640.20" stroke="#52a8a6"/>
<polyline points="325.22,736.55 325.22,742.00 291.91,746.20" stroke="#000000"/>
<polyline points="287.17,641.45 287.17,734.50 325.22,738.00" stroke="#000000"/>
<polyline points="362.60,728.85 362.60,734.10 325.22,738.00" stroke="#000000"/>
<polyline points="302.65,630.55 302.65,638.20 287.17,642.90" stroke="#000000"/>
<polyline points="401.70,720.55 401.70,726.30 362.60,730.30" stroke="#000000"/>
<polyline points="402.43,720.55 402.43,726.95 362.67,731.02" stroke="#52a8a6" stroke-width="1.45"/>
<polyline points="344.92,638.45 344.92,716.60 401.70,722.00" stroke="#52a8a6"/>
<polyline points="345.65,638.45 345.65,715.94 401.77,721.28" stroke="#000000" stroke-width="1.45"/>
<polyline points="461.13,708.25 461.13,715.50 401.70,722.00" stroke="#52a8a6"/>
<polyline points="354.65,631.05 354.65,635.20 344.92,639.90" stroke="#000000"/>
<polyline points="392.03,641.45 392.03,704.20 461.13,709.70" stroke="#52a8a6"/>
<polyline points="528.80,697.65 528.80,703.70 461.13,709.70" stroke="#52a8a6"/>
<polyline points="379.35,630.55 379.35,638.20 392.03,642.90" stroke="#52a8a6"/>
<polyline points="404.70,630.55 404.70,638.20 392.03,642.90" stroke="#52a8a6"/>
<polyline points="433.83,638.45 433.83,691.10 528.80,699.10" stroke="#52a8a6"/>
<polyline points="494.02,642.65 494.02,696.17" stroke="#52a8a6"/>
<polyline points="626.65,683.15 626.65,693.50 528.80,699.10" stroke="#52a8a6"/>
<polyline points="443.85,631.55 443.85,635.20 433.83,639.90" stroke="#52a8a6"/>
<polyline points="494.65,631.05 494.65,644.10" stroke="#000000"/>
<polyline points="525.55,631.35 525.55,639.40 494.02,644.10" stroke="#6f3c92"/>
<polyline points="572.59,661.35 572.59,679.00 626.65,684.60" stroke="#52a8a6"/>
<polyline points="681.50,671.45 681.50,678.70 626.65,684.60" stroke="#6f3c92"/>
<polyline points="557.50,629.85 557.50,658.60 572.59,662.80" stroke="#52a8a6"/>
<polyline points="587.68,654.45 587.68,658.60 572.59,662.80" stroke="#52a8a6"/>
<polyline points="598.66,646.75 598.66,651.20 587.68,655.90" stroke="#52a8a6"/>
<polyline points="609.73,638.95 609.73,643.50 598.66,648.20" stroke="#52a8a6"/>
<polyline points="619.35,630.15 619.35,635.70 609.73,640.40" stroke="#52a8a6"/>
<polyline points="648.25,646.45 648.25,669.20 681.50,672.90" stroke="#6f3c92"/>
<polyline points="713.18,661.25 713.18,668.70 681.50,672.90" stroke="#6f3c92"/>
<polyline points="660.00,638.45 660.00,643.20 648.25,647.90" stroke="#6f3c92"/>
<polyline points="670.00,630.15 670.00,635.20 660.00,639.90" stroke="#6f3c92"/>
<polyline points="698.00,630.15 698.00,658.50 713.18,662.70" stroke="#6f3c92"/>
<polyline points="728.37,654.25 728.37,658.50 713.18,662.70" stroke="#6f3c92"/>
<polyline points="739.94,646.45 739.94,651.00 728.37,655.70" stroke="#6f3c92"/>
<polyline points="751.38,638.05 751.38,643.20 739.94,647.90" stroke="#6f3c92"/>
<polyline points="760.35,630.15 760.35,634.80 751.38,639.50" stroke="#6f3c92"/>
<polyline points="58.09,820.75 58.09,827.00" stroke="#3e9b44"/>
</g>
<g font-size="14.1" fill="#000" stroke="#000" stroke-width="0.15">
<rect x="493.1" y="360.8" width="26.0" height="16.0" fill="#000000"/>
<rect x="493.1" y="392.6" width="26.0" height="16.0" fill="#52a8a6"/>
<rect x="622.75" y="361.25" width="25.30" height="15.10" fill="#6f3c92" stroke="#5e2c88" stroke-width="0.9"/>
<rect x="622.75" y="393.05" width="25.30" height="15.10" fill="#858588" stroke="#707075" stroke-width="0.9"/>
<text x="537.7" y="375.9">State 0</text>
<text x="537.7" y="407.5">State 1</text>
<text x="666.8" y="375.9">State 2</text>
<text x="666.8" y="407.5">Undetermined</text>
<text x="713.0" y="424.5">state</text>
<rect x="493.1" y="766.3" width="26.0" height="16.0" fill="#000000"/>
<rect x="493.1" y="798.1" width="26.0" height="16.0" fill="#52a8a6"/>
<rect x="622.75" y="766.75" width="25.30" height="15.10" fill="#6f3c92" stroke="#5e2c88" stroke-width="0.9"/>
<rect x="621.7" y="797.0" width="27.5" height="17.6" fill="#3e9b44"/>
<text x="537.7" y="781.4">State 0</text>
<text x="537.7" y="813.0">State 1</text>
<text x="666.8" y="781.4">State 2</text>
<text x="666.8" y="813.0">State 3</text>
</g>
</svg>
</body></html>
